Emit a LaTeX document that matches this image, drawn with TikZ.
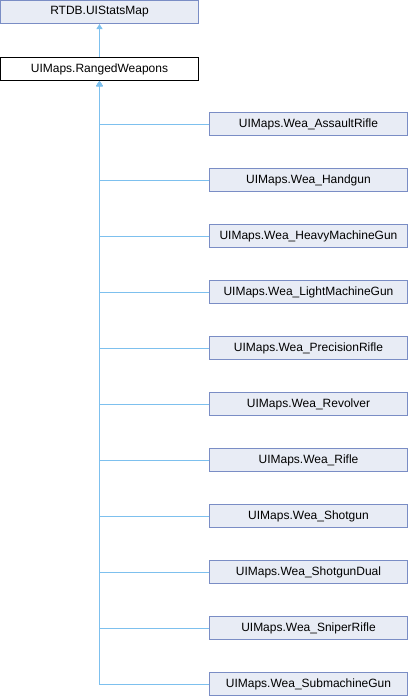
\documentclass[tikz,border=0pt]{standalone}
\usepackage{fontspec}
\setmainfont{Liberation Sans}
\usetikzlibrary{arrows.meta}
\definecolor{boxfill}{HTML}{E8ECF5}
\definecolor{boxline}{HTML}{7A8DC5}
\definecolor{edgeblue}{HTML}{7DC0EE}
\tikzset{
  cls/.style={draw=boxline, fill=boxfill, line width=1pt, minimum width=198pt,
    minimum height=23pt, inner sep=0pt, font=\fontsize{12}{14}\selectfont},
  current/.style={cls, draw=black, fill=white},
  inherit/.style={draw=edgeblue, line width=1pt,
    {Triangle[length=5pt, width=6pt, fill=edgeblue]}-}
}
\begin{document}
\begin{tikzpicture}[x=1pt, y=-1pt]
  \useasboundingbox (0,0) rectangle (408,696);
  \node[cls] (base) at (99.5,12) {RTDB.UIStatsMap};
  \node[current] (ranged) at (99.5,69) {UIMaps.RangedWeapons};
  \draw[inherit] (base.south) -- (ranged.north);
  \foreach \name [count=\i from 0] in {Wea\_AssaultRifle, Wea\_Handgun,
    Wea\_HeavyMachineGun, Wea\_LightMachineGun, Wea\_PrecisionRifle,
    Wea\_Revolver, Wea\_Rifle, Wea\_Shotgun, Wea\_ShotgunDual,
    Wea\_SniperRifle, Wea\_SubmachineGun}
  {
    \node[cls] (sub\i) at (308.5,124+56*\i) {UIMaps.\name};
    \draw[inherit] (ranged.south) |- (sub\i.west);
  }
\end{tikzpicture}
\end{document}
